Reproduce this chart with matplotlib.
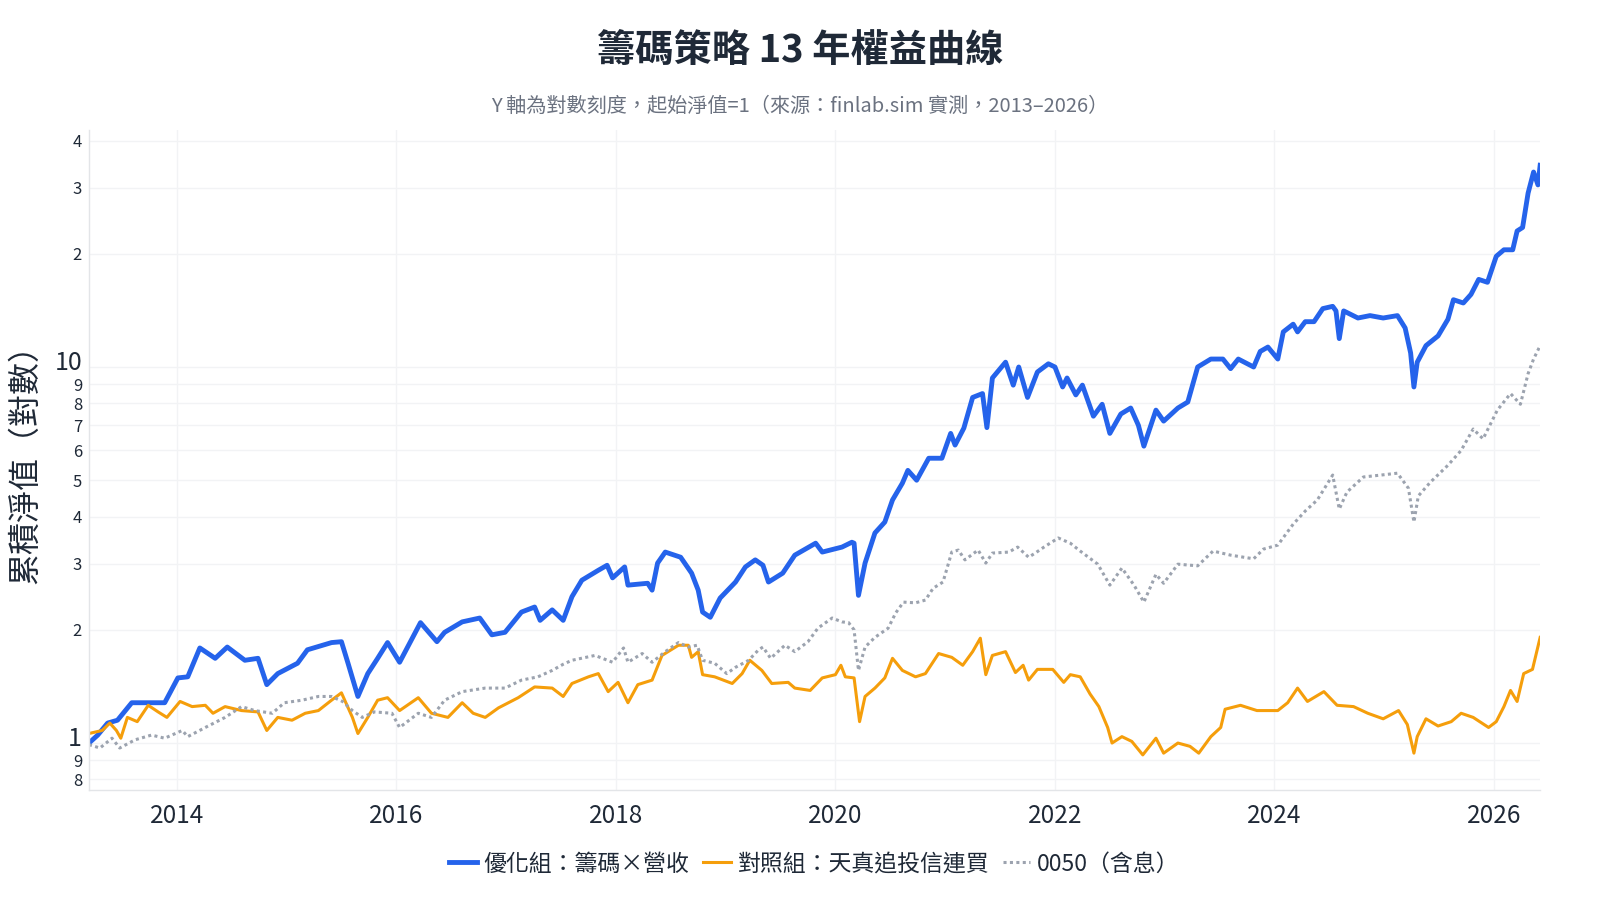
import numpy as np
import pandas as pd
import matplotlib
matplotlib.use("Agg")
import matplotlib.pyplot as plt
from matplotlib.ticker import NullLocator
from matplotlib.transforms import ScaledTranslation, blended_transform_factory
import matplotlib.dates as mdates

plt.rcParams['font.family'] = ['Noto Sans CJK TC', 'DejaVu Sans']

# values (decimal year, net value)
blue_yr = [2013.20, 2013.28, 2013.37, 2013.46, 2013.59, 2013.77, 2013.89, 2014.01, 2014.10, 2014.21,
           2014.35, 2014.46, 2014.62, 2014.74, 2014.82, 2014.92, 2015.10, 2015.19, 2015.41, 2015.50,
           2015.56, 2015.65, 2015.74, 2015.83, 2015.92, 2016.03, 2016.22, 2016.37, 2016.44, 2016.60,
           2016.76, 2016.87, 2016.99, 2017.14, 2017.26, 2017.31, 2017.42, 2017.52, 2017.60, 2017.69,
           2017.84, 2017.92, 2017.97, 2018.08, 2018.11, 2018.29, 2018.33, 2018.38, 2018.45, 2018.59,
           2018.69, 2018.75, 2018.79, 2018.86, 2018.95, 2019.09, 2019.18, 2019.27, 2019.34, 2019.39,
           2019.52, 2019.63, 2019.82, 2019.88, 2020.06, 2020.15, 2020.17, 2020.21, 2020.27, 2020.36,
           2020.45, 2020.52, 2020.61, 2020.66, 2020.74, 2020.85, 2020.97, 2021.05, 2021.09, 2021.17,
           2021.25, 2021.34, 2021.38, 2021.43, 2021.55, 2021.62, 2021.67, 2021.75, 2021.84, 2021.94,
           2022.00, 2022.07, 2022.11, 2022.19, 2022.25, 2022.35, 2022.43, 2022.50, 2022.60, 2022.69,
           2022.76, 2022.81, 2022.92, 2022.99, 2023.12, 2023.21, 2023.30, 2023.42, 2023.53, 2023.60,
           2023.67, 2023.81, 2023.87, 2023.94, 2024.03, 2024.08, 2024.17, 2024.21, 2024.28, 2024.36,
           2024.44, 2024.53, 2024.56, 2024.59, 2024.63, 2024.76, 2024.87, 2024.99, 2025.12, 2025.19,
           2025.24, 2025.27, 2025.30, 2025.38, 2025.49, 2025.58, 2025.63, 2025.72, 2025.79, 2025.86,
           2025.94, 2026.02, 2026.09, 2026.17, 2026.21, 2026.26, 2026.31, 2026.36, 2026.40, 2026.42]
blue_val = [1.00, 1.05, 1.13, 1.15, 1.28, 1.28, 1.28, 1.49, 1.50, 1.79,
            1.68, 1.80, 1.66, 1.68, 1.43, 1.53, 1.63, 1.77, 1.85, 1.86,
            1.63, 1.33, 1.53, 1.68, 1.85, 1.64, 2.09, 1.86, 1.97, 2.10,
            2.15, 1.94, 1.97, 2.23, 2.30, 2.12, 2.26, 2.12, 2.45, 2.71,
            2.88, 2.97, 2.75, 2.94, 2.63, 2.66, 2.55, 3.01, 3.22, 3.12,
            2.83, 2.55, 2.23, 2.16, 2.43, 2.68, 2.94, 3.07, 2.97, 2.68,
            2.83, 3.16, 3.40, 3.22, 3.32, 3.42, 3.40, 2.47, 3.01, 3.62,
            3.87, 4.43, 4.91, 5.31, 5.00, 5.72, 5.72, 6.66, 6.20, 6.88,
            8.30, 8.50, 6.90, 9.35, 10.3, 8.95, 10.0, 8.30, 9.70, 10.2,
            10.0, 8.85, 9.35, 8.43, 8.95, 7.40, 7.96, 6.66, 7.50, 7.78,
            7.00, 6.16, 7.68, 7.18, 7.78, 8.07, 10.0, 10.5, 10.5, 9.90,
            10.5, 10.0, 11.0, 11.3, 10.5, 12.4, 13.0, 12.4, 13.2, 13.2,
            14.3, 14.5, 14.1, 11.9, 14.1, 13.5, 13.7, 13.5, 13.7, 12.7,
            10.9, 8.85, 10.3, 11.4, 12.1, 13.4, 15.1, 14.8, 15.6, 17.1,
            16.8, 19.7, 20.5, 20.5, 23.0, 23.5, 29.0, 33.0, 30.5, 34.4]

orange_yr = [2013.20, 2013.32, 2013.39, 2013.45, 2013.49, 2013.55, 2013.64, 2013.74, 2013.83, 2013.91,
             2014.03, 2014.14, 2014.26, 2014.33, 2014.44, 2014.59, 2014.74, 2014.82, 2014.92, 2015.05,
             2015.17, 2015.29, 2015.41, 2015.50, 2015.60, 2015.65, 2015.74, 2015.83, 2015.92, 2016.03,
             2016.20, 2016.32, 2016.47, 2016.60, 2016.70, 2016.81, 2016.93, 2017.11, 2017.26, 2017.42,
             2017.52, 2017.60, 2017.75, 2017.84, 2017.93, 2018.02, 2018.11, 2018.20, 2018.33, 2018.42,
             2018.57, 2018.66, 2018.69, 2018.75, 2018.79, 2018.90, 2019.06, 2019.15, 2019.22, 2019.33,
             2019.42, 2019.57, 2019.63, 2019.77, 2019.88, 2020.00, 2020.05, 2020.09, 2020.17, 2020.22,
             2020.27, 2020.36, 2020.45, 2020.52, 2020.61, 2020.73, 2020.82, 2020.94, 2021.06, 2021.16,
             2021.25, 2021.32, 2021.37, 2021.43, 2021.55, 2021.64, 2021.71, 2021.76, 2021.84, 2021.98,
             2022.08, 2022.14, 2022.23, 2022.32, 2022.40, 2022.48, 2022.52, 2022.61, 2022.70, 2022.80,
             2022.92, 2022.99, 2023.12, 2023.23, 2023.31, 2023.42, 2023.51, 2023.55, 2023.69, 2023.84,
             2024.03, 2024.12, 2024.21, 2024.30, 2024.45, 2024.57, 2024.72, 2024.85, 2024.99, 2025.13,
             2025.21, 2025.27, 2025.30, 2025.38, 2025.49, 2025.61, 2025.70, 2025.81, 2025.95, 2026.02,
             2026.09, 2026.15, 2026.21, 2026.27, 2026.35, 2026.42]
orange_val = [1.06, 1.08, 1.13, 1.08, 1.03, 1.17, 1.14, 1.26, 1.21, 1.17,
              1.29, 1.25, 1.26, 1.20, 1.25, 1.22, 1.21, 1.08, 1.17, 1.15,
              1.20, 1.22, 1.30, 1.36, 1.17, 1.06, 1.17, 1.30, 1.32, 1.22,
              1.32, 1.20, 1.17, 1.28, 1.20, 1.17, 1.24, 1.32, 1.41, 1.40,
              1.33, 1.44, 1.50, 1.53, 1.37, 1.45, 1.28, 1.43, 1.47, 1.71,
              1.82, 1.82, 1.69, 1.75, 1.52, 1.50, 1.44, 1.53, 1.66, 1.56,
              1.44, 1.45, 1.40, 1.38, 1.49, 1.52, 1.61, 1.50, 1.49, 1.14,
              1.33, 1.40, 1.49, 1.68, 1.56, 1.50, 1.53, 1.73, 1.69, 1.61,
              1.75, 1.90, 1.52, 1.71, 1.75, 1.54, 1.61, 1.47, 1.57, 1.57,
              1.45, 1.52, 1.50, 1.35, 1.25, 1.10, 1.00, 1.04, 1.01, 0.93,
              1.03, 0.94, 1.00, 0.98, 0.94, 1.04, 1.10, 1.23, 1.26, 1.22,
              1.22, 1.28, 1.40, 1.29, 1.37, 1.26, 1.25, 1.20, 1.16, 1.22,
              1.12, 0.94, 1.04, 1.16, 1.11, 1.14, 1.20, 1.17, 1.10, 1.14,
              1.25, 1.38, 1.29, 1.53, 1.57, 1.91]

gray_yr = [2013.20, 2013.30, 2013.41, 2013.48, 2013.62, 2013.77, 2013.89, 2014.05, 2014.10, 2014.26,
           2014.44, 2014.59, 2014.71, 2014.87, 2014.98, 2015.14, 2015.29, 2015.41, 2015.51, 2015.60,
           2015.69, 2015.80, 2015.96, 2016.03, 2016.20, 2016.32, 2016.44, 2016.60, 2016.81, 2016.99,
           2017.14, 2017.29, 2017.42, 2017.52, 2017.60, 2017.81, 2017.97, 2018.07, 2018.11, 2018.24,
           2018.33, 2018.45, 2018.57, 2018.66, 2018.74, 2018.79, 2018.90, 2019.01, 2019.09, 2019.21,
           2019.30, 2019.34, 2019.41, 2019.54, 2019.63, 2019.75, 2019.84, 2019.97, 2020.06, 2020.12,
           2020.17, 2020.21, 2020.27, 2020.36, 2020.48, 2020.55, 2020.62, 2020.73, 2020.82, 2020.89,
           2020.98, 2021.06, 2021.12, 2021.18, 2021.30, 2021.37, 2021.43, 2021.58, 2021.66, 2021.76,
           2021.82, 2021.90, 2022.03, 2022.14, 2022.23, 2022.39, 2022.50, 2022.61, 2022.72, 2022.81,
           2022.92, 2022.99, 2023.12, 2023.30, 2023.44, 2023.60, 2023.81, 2023.90, 2024.03, 2024.17,
           2024.28, 2024.39, 2024.53, 2024.59, 2024.66, 2024.81, 2024.97, 2025.12, 2025.22, 2025.27,
           2025.31, 2025.42, 2025.58, 2025.70, 2025.81, 2025.90, 2026.03, 2026.15, 2026.24, 2026.31,
           2026.36, 2026.42]
gray_val = [0.99, 0.97, 1.03, 0.97, 1.02, 1.05, 1.03, 1.08, 1.04, 1.10,
            1.17, 1.25, 1.22, 1.20, 1.28, 1.30, 1.33, 1.33, 1.29, 1.22,
            1.17, 1.21, 1.20, 1.10, 1.20, 1.17, 1.30, 1.37, 1.40, 1.40,
            1.47, 1.50, 1.56, 1.62, 1.66, 1.71, 1.64, 1.79, 1.64, 1.73,
            1.64, 1.75, 1.85, 1.80, 1.82, 1.66, 1.63, 1.53, 1.59, 1.66,
            1.77, 1.80, 1.68, 1.82, 1.75, 1.86, 2.02, 2.15, 2.10, 2.09,
            2.00, 1.56, 1.80, 1.91, 2.02, 2.22, 2.37, 2.36, 2.40, 2.58,
            2.68, 3.22, 3.26, 3.07, 3.26, 3.01, 3.20, 3.22, 3.32, 3.12,
            3.20, 3.32, 3.51, 3.40, 3.24, 2.99, 2.63, 2.92, 2.63, 2.37,
            2.81, 2.66, 2.99, 2.96, 3.24, 3.16, 3.09, 3.28, 3.36, 3.82,
            4.14, 4.43, 5.16, 4.19, 4.65, 5.10, 5.16, 5.22, 4.76, 3.87,
            4.54, 4.94, 5.48, 6.00, 6.84, 6.44, 7.68, 8.50, 7.96, 9.60,
            10.5, 11.4]

names = ['優化組：籌碼×營收', '對照組：天真追投信連買', '0050（含息）']
colors = ['#2563EB', '#F59E0B', '#9CA3AF']

# minor digits on the log axis; the decades 1 and 10 get bigger labels
y_ticks = [0.8, 0.9, 1, 2, 3, 4, 5, 6, 7, 8, 9, 10, 20, 30, 40]
y_labels = ['8', '9', '', '2', '3', '4', '5', '6', '7', '8', '9', '', '2', '3', '4']
y_major = [1, 10]
y_major_labels = ['1', '10']


def to_dates(yrs):
    yrs = np.asarray(yrs)
    return pd.Timestamp('2013-01-01') + pd.to_timedelta((yrs - 2013) * 365.25, unit='D')


fig = plt.figure(figsize=(16, 9), dpi=100)
ax = fig.add_axes([0.0556, 0.1222, 0.907, 0.7334])

ax.plot(to_dates(blue_yr), blue_val, color=colors[0], lw=3.5, label=names[0],
        solid_joinstyle='round')
ax.plot(to_dates(orange_yr), orange_val, color=colors[1], lw=2.2, label=names[1],
        solid_joinstyle='round')
ax.plot(to_dates(gray_yr), gray_val, color=colors[2], lw=2.2, label=names[2],
        linestyle=(0, (1, 1.1)))

ax.set_yscale('log')
ax.set_ylim(0.75, 42.7)
ax.set_xlim(to_dates([blue_yr[0]])[0], to_dates([blue_yr[-1]])[0])
ax.set_yticks(y_ticks, y_labels)
ax.yaxis.set_minor_locator(NullLocator())
ax.tick_params(axis='y', length=0, pad=5, labelsize=12, labelcolor='#1f2937')

trans = blended_transform_factory(ax.transAxes, ax.transData) + \
    ScaledTranslation(-5 / 72, 3 / 72, fig.dpi_scale_trans)
for v, lab in zip(y_major, y_major_labels):
    ax.text(0, v, lab, transform=trans, ha='right', va='center', fontsize=18,
            color='#1f2937', clip_on=False)

ax.xaxis.set_major_locator(mdates.YearLocator(2))
ax.xaxis.set_major_formatter(mdates.DateFormatter('%Y'))
ax.tick_params(axis='x', length=0, pad=9, labelsize=17.5, labelcolor='#1f2937')

ax.grid(True, color='#f2f3f5', lw=1)
ax.set_axisbelow(True)
for s in ['top', 'right']:
    ax.spines[s].set_visible(False)
for s in ['left', 'bottom']:
    ax.spines[s].set_color('#e3e5e8')
    ax.spines[s].set_linewidth(1)

fig.text(0.016, 0.493, '累積淨值（對數）', rotation=90, ha='center', va='center',
         fontsize=23, color='#1f2937')

fig.text(0.5, 0.944, '籌碼策略 13 年權益曲線', ha='center', va='center',
         fontsize=27.5, fontweight='bold', color='#1f2937')
fig.text(0.5, 0.882, 'Y 軸為對數刻度，起始淨值=1（來源：finlab.sim 實測，2013–2026）',
         ha='center', va='center', fontsize=14.5, color='#6b7280')

fig.legend(loc='center', bbox_to_anchor=(0.509, 0.04), ncol=3, frameon=False,
           fontsize=16.5, handlelength=1.2, handletextpad=0.3, columnspacing=0.6,
           labelcolor='#1f2937')

fig.savefig('out.png', dpi=100, facecolor='white')
